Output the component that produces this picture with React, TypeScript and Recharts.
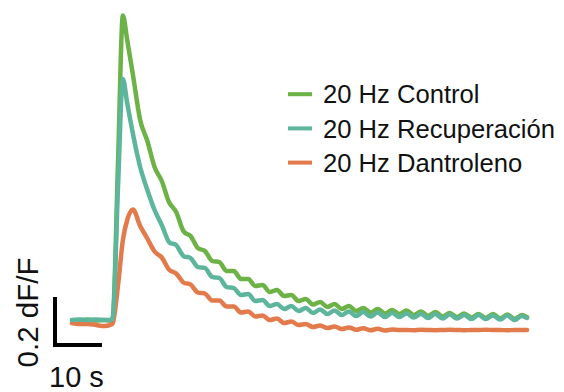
import React from "react";
import { LineChart, Line, XAxis, YAxis, ReferenceLine } from "recharts";

// time in seconds
const time = [
  0, 1.7, 3.3, 5.0, 6.7, 7.9, 8.5, 9.6, 10.6, 11.5, 12.7, 14.2,
  15.7, 17.2, 18.7, 20.2, 21.7, 23.2, 24.7, 26.2, 27.7, 29.2, 30.7, 32.2, 33.7,
  35.2, 36.7, 38.2, 39.7, 41.2, 42.7, 44.2, 45.7, 47.2, 48.7, 50.2, 51.7, 53.2,
  54.7, 56.2, 57.7, 59.2, 60.7, 62.2, 63.7, 65.2, 66.7, 68.2, 69.7, 71.2, 72.7,
  74.2, 75.7, 77.2, 78.7, 80.2, 81.7, 83.2, 84.7, 86.2, 87.7, 89.2, 90.7, 92.2,
  93.7, 94.8,
];

// dF/F
const control = [
  0.0, -0.004, 0.002, -0.002, 0.0, -0.002, 0.012, 0.64, 1.218, 1.12, 0.98, 0.8,
  0.716, 0.612, 0.556, 0.472, 0.432, 0.356, 0.336, 0.288, 0.276, 0.236, 0.232,
  0.196, 0.196, 0.164, 0.164, 0.136, 0.14, 0.112, 0.12, 0.096, 0.1, 0.076, 0.084,
  0.062, 0.072, 0.052, 0.064, 0.044, 0.056, 0.036, 0.048, 0.03, 0.044, 0.026,
  0.04, 0.024, 0.038, 0.02, 0.034, 0.016, 0.032, 0.014, 0.028, 0.012, 0.026,
  0.01, 0.024, 0.008, 0.024, 0.006, 0.022, 0.004, 0.02,
  0.012,
];

const recuperacion = [
  0.0, 0.002, 0.0, 0.002, 0.0, 0.0, 0.008, 0.54, 0.964, 0.868, 0.744, 0.612,
  0.52, 0.44, 0.38, 0.312, 0.3, 0.256, 0.248, 0.212, 0.208, 0.172, 0.168, 0.132,
  0.128, 0.1, 0.104, 0.076, 0.08, 0.056, 0.064, 0.044, 0.056, 0.036, 0.048,
  0.028, 0.042, 0.024, 0.038, 0.02, 0.034, 0.016, 0.032, 0.014, 0.03, 0.012,
  0.028, 0.012, 0.026, 0.01, 0.024, 0.008, 0.024, 0.006, 0.022, 0.006, 0.02,
  0.004, 0.02, 0.004, 0.018, 0.002, 0.018, 0.0, 0.016,
  0.008,
];

const dantroleno = [
  -0.012, -0.016, -0.016, -0.02, -0.024, -0.02, -0.012, 0.14, 0.32, 0.4, 0.442, 0.376,
  0.326, 0.274, 0.25, 0.202, 0.186, 0.15, 0.142, 0.11, 0.106, 0.078, 0.078,
  0.054, 0.054, 0.03, 0.034, 0.014, 0.018, 0.0, 0.006, -0.012, -0.006, -0.02,
  -0.016, -0.028, -0.022, -0.032, -0.026, -0.036, -0.03, -0.039, -0.033, -0.041,
  -0.035, -0.042, -0.038, -0.04, -0.04, -0.041, -0.039, -0.04, -0.041, -0.04,
  -0.039, -0.04, -0.041, -0.04, -0.04, -0.039, -0.04, -0.04, -0.041, -0.04, -0.04,
  -0.04,
];

const seriesKeys = ["control", "recuperacion", "dantroleno"];
const seriesNames = ["20 Hz Control", "20 Hz Recuperación", "20 Hz Dantroleno"];
const seriesColors = ["#6cb247", "#5db59c", "#e27a4b"];
const drawOrder = [0, 2, 1];

// scale bar (in data units)
const scaleBarTime = 10; // s
const scaleBarAmp = 0.2; // dF/F
const scaleBarOriginT = -3.96;
const scaleBarOriginV = -0.1;
const scaleBarTLabel = "10 s";
const scaleBarVLabel = "0.2 dF/F";

const rows = time.map((t, i) => ({
  t,
  control: control[i],
  recuperacion: recuperacion[i],
  dantroleno: dantroleno[i],
}));

// Smooth Hermite curve (d3 curve interface) with a Hyman-style limiter:
// smooth ripples, no overshoot at peaks or at the onset.
function smoothCurve(context: any) {
  let pts: [number, number][] = [];
  return {
    areaStart() {},
    areaEnd() {},
    lineStart() {
      pts = [];
    },
    point(x: number, y: number) {
      pts.push([+x, +y]);
    },
    lineEnd() {
      const n = pts.length;
      if (!n) return;
      context.moveTo(pts[0][0], pts[0][1]);
      if (n === 1) return;
      const h: number[] = [];
      const s: number[] = [];
      for (let i = 0; i < n - 1; i++) {
        h.push(pts[i + 1][0] - pts[i][0] || 1e-9);
        s.push((pts[i + 1][1] - pts[i][1]) / (pts[i + 1][0] - pts[i][0] || 1e-9));
      }
      const m: number[] = new Array(n).fill(0);
      m[0] = s[0];
      m[n - 1] = s[n - 2];
      for (let i = 1; i < n - 1; i++) {
        const a = s[i - 1];
        const b = s[i];
        if (a * b <= 0) {
          m[i] = 0;
        } else {
          let t = (a * h[i] + b * h[i - 1]) / (h[i - 1] + h[i]);
          const lim = 3 * Math.min(Math.abs(a), Math.abs(b));
          if (Math.abs(t) > lim) t = Math.sign(t) * lim;
          m[i] = t;
        }
      }
      for (let i = 0; i < n - 1; i++) {
        const d = h[i] / 3;
        context.bezierCurveTo(
          pts[i][0] + d,
          pts[i][1] + m[i] * d,
          pts[i + 1][0] - d,
          pts[i + 1][1] - m[i + 1] * d,
          pts[i + 1][0],
          pts[i + 1][1]
        );
      }
    },
  };
}

const W = 564;
const H = 392;
const FONT = "'Liberation Sans', Arial, Helvetica, sans-serif";

export default function App() {
  const vx = scaleBarOriginT + 0.417; // centre of the vertical bar stroke
  return (
    <div style={{ position: "absolute", left: 0, top: 0, width: W, height: H, background: "#fff" }}>
      <LineChart width={W} height={H} data={rows} margin={{ top: 0, right: 0, bottom: 0, left: 0 }}>
        <XAxis dataKey="t" type="number" domain={[-15, 102.5]} hide allowDataOverflow />
        <YAxis type="number" domain={[-0.288, 1.28]} hide allowDataOverflow />
        {drawOrder.map((i) => (
          <Line
            key={seriesKeys[i]}
            dataKey={seriesKeys[i]}
            name={seriesNames[i]}
            type={smoothCurve as any}
            stroke={seriesColors[i]}
            strokeWidth={4.5}
            strokeLinejoin="round"
            strokeLinecap="round"
            dot={false}
            activeDot={false}
            isAnimationActive={false}
          />
        ))}
        <ReferenceLine
          segment={[
            { x: vx, y: scaleBarOriginV - 0.008 },
            { x: vx, y: scaleBarOriginV - 0.008 + scaleBarAmp },
          ]}
          stroke="#000"
          strokeWidth={4}
        />
        <ReferenceLine
          segment={[
            { x: scaleBarOriginT, y: scaleBarOriginV },
            { x: scaleBarOriginT + scaleBarTime + 0.2, y: scaleBarOriginV },
          ]}
          stroke="#000"
          strokeWidth={4}
        />
      </LineChart>
      <svg
        width={W}
        height={H}
        style={{ position: "absolute", left: 0, top: 0, pointerEvents: "none" }}
      >
        <text
          x={38}
          y={312.5}
          transform="rotate(-90 38 312.5)"
          textAnchor="middle"
          fontSize={29.5}
          fontFamily={FONT}
          fill="#111"
        >
          {scaleBarVLabel}
        </text>
        <text x={49} y={386.5} fontSize={29} fontFamily={FONT} fill="#111">
          {scaleBarTLabel}
        </text>
        {seriesNames.map((name, i) => {
          const cy = 94.2 + i * 34.2;
          return (
            <g key={name}>
              <line x1={288} x2={312} y1={cy} y2={cy} stroke={seriesColors[i]} strokeWidth={4} />
              <text x={323} y={cy + 9.2} fontSize={25.6} fontFamily={FONT} fill="#111">
                {name}
              </text>
            </g>
          );
        })}
      </svg>
    </div>
  );
}
